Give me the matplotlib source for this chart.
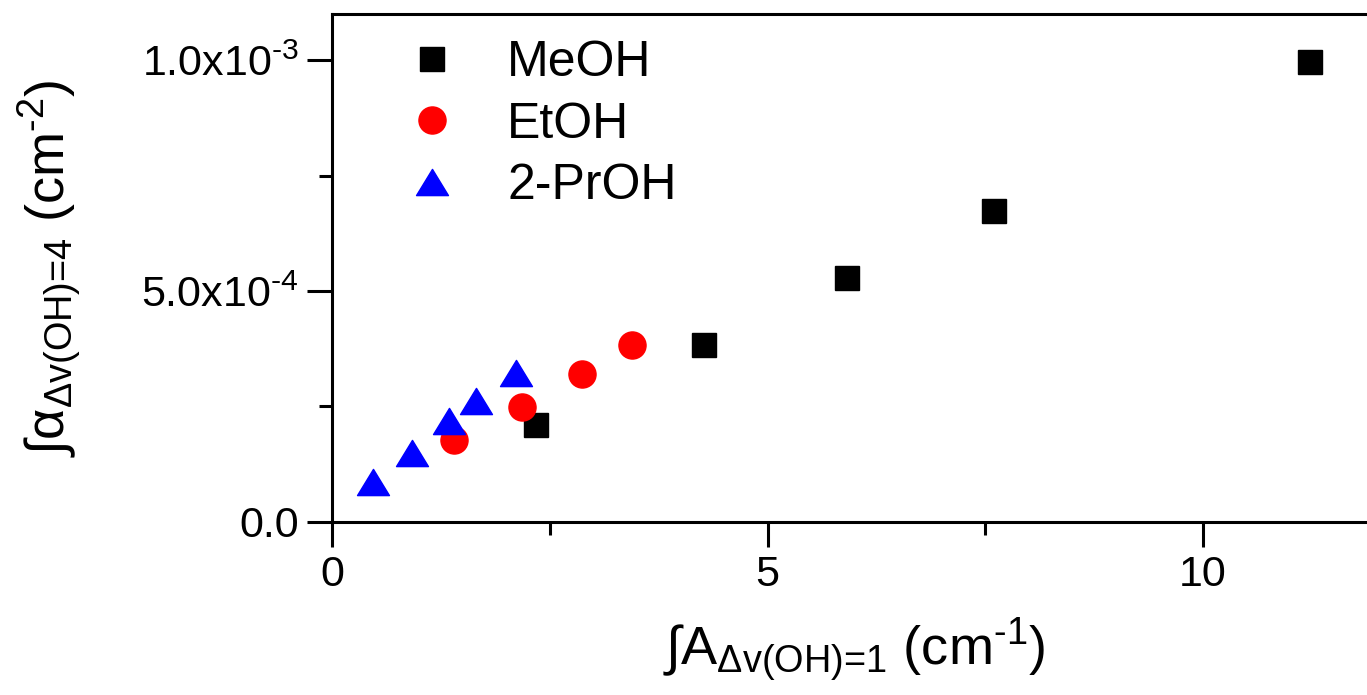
import matplotlib
matplotlib.use("Agg")
import matplotlib.pyplot as plt
from matplotlib.path import Path
from matplotlib.ticker import MultipleLocator, FuncFormatter

# ---- data ----
meoh_x = [2.34, 4.27, 5.91, 7.60, 11.23]
meoh_y = [2.09e-4, 3.83e-4, 5.28e-4, 6.74e-4, 9.96e-4]

etoh_x = [1.40, 2.18, 2.87, 3.44]
etoh_y = [1.76e-4, 2.48e-4, 3.20e-4, 3.83e-4]

prop_x = [0.47, 0.92, 1.34, 1.65, 2.11]
prop_y = [0.85e-4, 1.48e-4, 2.18e-4, 2.62e-4, 3.22e-4]

series_labels = ["MeOH", "EtOH", "2-PrOH"]

plt.rcParams["font.family"] = ["Liberation Sans", "DejaVu Sans"]
plt.rcParams["mathtext.fontset"] = "custom"
plt.rcParams["mathtext.rm"] = "Liberation Sans"
plt.rcParams["mathtext.it"] = "Liberation Sans"
plt.rcParams["mathtext.default"] = "regular"

# flattened triangle like the original
tri = Path([(0, 0.82), (-1, -0.82), (1, -0.82), (0, 0.82)],
           [Path.MOVETO, Path.LINETO, Path.LINETO, Path.CLOSEPOLY])

fig = plt.figure(figsize=(13.67, 6.95), dpi=100)
ax = fig.add_axes([0.2429, 0.2496, 0.7646, 0.7298])

ax.plot(meoh_x, meoh_y, ls="none", marker="s", ms=17.3, color="black",
        label=series_labels[0])
ax.plot(etoh_x, etoh_y, ls="none", marker="o", ms=19.5, color="#ff0000",
        mec="#ff0000", label=series_labels[1])
ax.plot(prop_x, prop_y, ls="none", marker=tri, ms=23, color="#0000ff",
        mec="#0000ff", label=series_labels[2])

ax.set_xlim(0, 12)
ax.set_ylim(0, 1.1e-3)

ax.xaxis.set_major_locator(MultipleLocator(5))
ax.xaxis.set_minor_locator(MultipleLocator(2.5))
ax.yaxis.set_major_locator(MultipleLocator(5e-4))
ax.yaxis.set_minor_locator(MultipleLocator(2.5e-4))


def yfmt(v, pos):
    if abs(v) < 1e-12:
        return "0.0"
    exp = int(f"{v:.1e}".split("e")[1])
    mant = v / 10 ** exp
    return f"{mant:.1f}x10$^{{\\text{{{exp}}}}}$"


ax.yaxis.set_major_formatter(FuncFormatter(yfmt))

for s in ax.spines.values():
    s.set_linewidth(2.2)
ax.tick_params(which="major", direction="out", length=18, width=2.2,
               labelsize=31, pad=6)
ax.tick_params(which="minor", direction="out", length=9.5, width=2.2)

ax.set_xlabel(r"∫A$_{\text{Δv(OH)=1}}$ (cm$^{\text{-1}}$)", fontsize=39,
              labelpad=16)
ax.set_ylabel(r"∫α$_{\text{Δv(OH)=4}}$ (cm$^{\text{-2}}$)", fontsize=39,
              labelpad=41)

ax.legend(loc="upper left", bbox_to_anchor=(0.029, 0.988), borderaxespad=0,
          frameon=False, fontsize=36, handletextpad=0.5, labelspacing=0.31,
          handlelength=2.0)

fig.savefig("out.png", dpi=100)
